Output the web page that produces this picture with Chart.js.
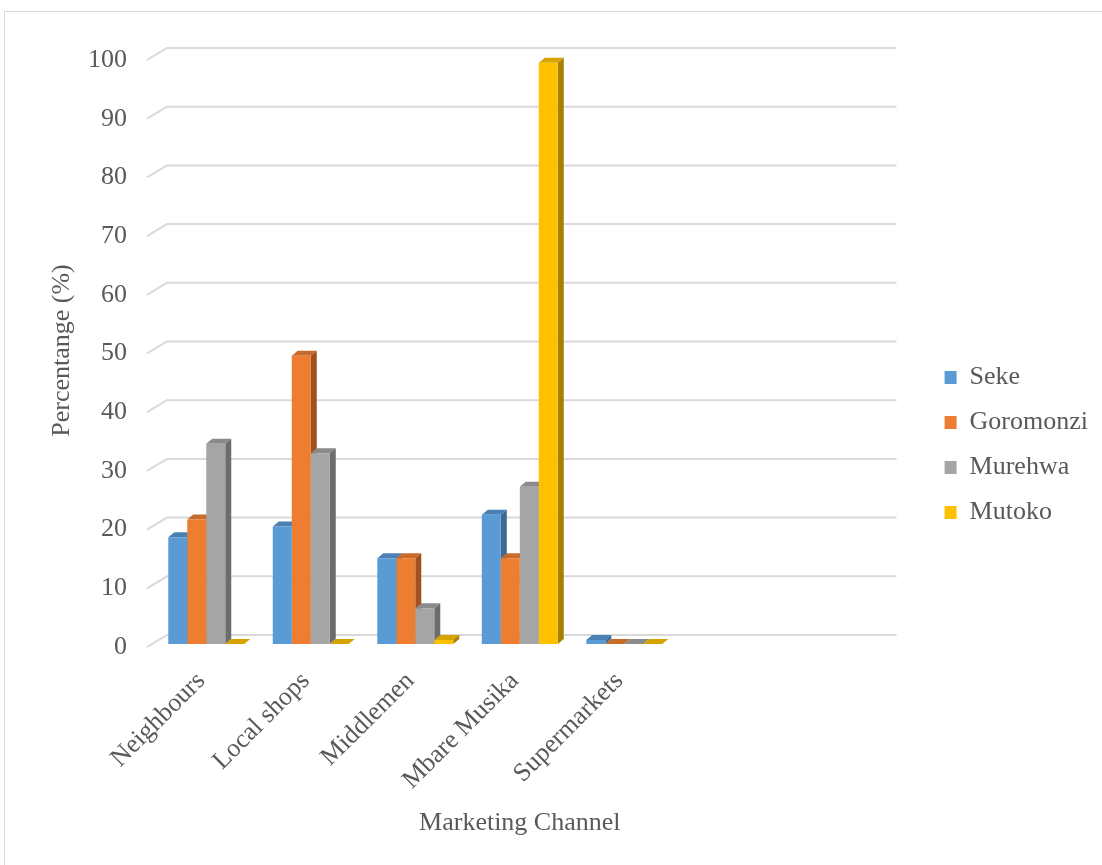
<!DOCTYPE html>
<html>
<head>
<meta charset="utf-8">
<script src="https://cdn.jsdelivr.net/npm/chart.js@4.4.1/dist/chart.umd.min.js"></script>
<style>
  html, body { margin: 0; padding: 0; background: #ffffff; overflow: hidden; }
  #wrap { position: relative; width: 1102px; height: 865px; }
  #frame { position: absolute; left: 4px; top: 11px; width: 1200px; height: 1000px; border: 1px solid #d9d9d9; pointer-events: none; }
  canvas { position: absolute; left: 0; top: 0; }
</style>
</head>
<body>
<div id="wrap">
  <canvas id="c" width="1102" height="865"></canvas>
  <div id="frame"></div>
</div>
<script>
// ---- data ----
const categories = ['Neighbours', 'Local shops', 'Middlemen', 'Mbare Musika', 'Supermarkets', '', ''];
const seke      = [18.2, 20.0, 14.6, 22.0, 0.7, null, null];
const goromonzi = [21.2, 49.1, 14.6, 14.6, 0,   null, null];
const murehwa   = [34.1, 32.5, 6.1,  26.8, 0,   null, null];
const mutoko    = [0,    0,    0.7,  99.0, 0,   null, null];
const seriesNames = ['Seke', 'Goromonzi', 'Murehwa', 'Mutoko'];
const yTicks = [0, 10, 20, 30, 40, 50, 60, 70, 80, 90, 100];

// ---- styles ----
const frontColors = ['#5B9BD5', '#ED7D31', '#A5A5A5', '#FFC000'];
const topColors   = ['#4A80B3', '#C86A2A', '#8A8A8A', '#D6A300'];
const sideColors  = ['#3D6A94', '#A2501F', '#6C6C6C', '#A88000'];
const DX = 6, DY = 5;
const FONT = "'Liberation Serif', 'Times New Roman', serif";
const TXT = '#595959';

const depthPlugin = {
  id: 'depth3d',
  beforeDatasetsDraw(chart) {
    const ctx = chart.ctx;
    const xs = chart.scales.x, ys = chart.scales.y;
    ctx.save();
    // back wall gridlines with floor diagonals
    ctx.strokeStyle = '#d9d9d9';
    ctx.lineWidth = 2;
    ys.ticks.forEach(t => {
      const py = ys.getPixelForValue(t.value);
      ctx.beginPath();
      ctx.moveTo(xs.left - 7, py + 3);
      ctx.lineTo(xs.left + 13, py - 9);
      ctx.lineTo(xs.right + 11, py - 9);
      ctx.stroke();
    });
    // top and side faces of each bar
    chart.data.datasets.forEach((ds, i) => {
      const meta = chart.getDatasetMeta(i);
      meta.data.forEach((el, j) => {
        if (ds.data[j] == null) return;
        const p = el.getProps(['x', 'y', 'base', 'width'], true);
        const l = p.x - p.width / 2, r = p.x + p.width / 2, top = p.y, base = p.base;
        ctx.fillStyle = topColors[i];
        ctx.beginPath();
        ctx.moveTo(l, top); ctx.lineTo(l + DX, top - DY); ctx.lineTo(r + DX, top - DY); ctx.lineTo(r, top);
        ctx.closePath(); ctx.fill();
        ctx.fillStyle = sideColors[i];
        ctx.beginPath();
        ctx.moveTo(r, top); ctx.lineTo(r + DX, top - DY); ctx.lineTo(r + DX, base - DY); ctx.lineTo(r, base);
        ctx.closePath(); ctx.fill();
      });
    });
    ctx.restore();
  }
};

const allSeries = [seke, goromonzi, murehwa, mutoko];

new Chart(document.getElementById('c'), {
  type: 'bar',
  data: {
    labels: categories,
    datasets: allSeries.map((d, i) => ({
      label: seriesNames[i],
      data: d,
      backgroundColor: frontColors[i],
      borderWidth: 0,
      categoryPercentage: 0.727,
      barPercentage: 1.0
    }))
  },
  options: {
    responsive: false,
    animation: false,
    layout: { padding: { left: 40, top: 57, right: 4, bottom: 32 } },
    plugins: {
      tooltip: { enabled: false },
      legend: {
        position: 'right',
        labels: {
          color: TXT,
          font: { family: FONT, size: 26 },
          boxWidth: 12,
          boxHeight: 13,
          padding: 19
        }
      }
    },
    scales: {
      x: {
        grid: { display: false, drawTicks: false },
        border: { display: false },
        ticks: {
          color: TXT,
          font: { family: FONT, size: 26 },
          maxRotation: 45, minRotation: 45,
          autoSkip: false,
          padding: 22,
          labelOffset: -5
        },
        title: {
          display: true,
          text: 'Marketing Channel',
          color: TXT,
          font: { family: FONT, size: 26 },
          padding: { top: 0, bottom: -6 }
        },
        afterFit(s) { s.height = 189; }
      },
      y: {
        min: 0, max: 100,
        grid: { display: false, drawTicks: false },
        border: { display: false },
        afterBuildTicks(s) { s.ticks = yTicks.map(v => ({ value: v })); },
        ticks: {
          color: TXT,
          font: { family: FONT, size: 26 },
          padding: 27,
          labelOffset: 3
        },
        title: {
          display: true,
          text: 'Percentange (%)',
          color: TXT,
          font: { family: FONT, size: 26 },
          padding: { top: 7, bottom: 0 }
        },
        afterFit(s) { s.width = 114; }
      },
      spacer: {
        type: 'linear',
        position: 'right',
        display: true,
        grid: { display: false, drawTicks: false },
        border: { display: false },
        ticks: { display: false },
        afterFit(s) { s.width = 40; }
      }
    }
  },
  plugins: [depthPlugin]
});
</script>
</body>
</html>
